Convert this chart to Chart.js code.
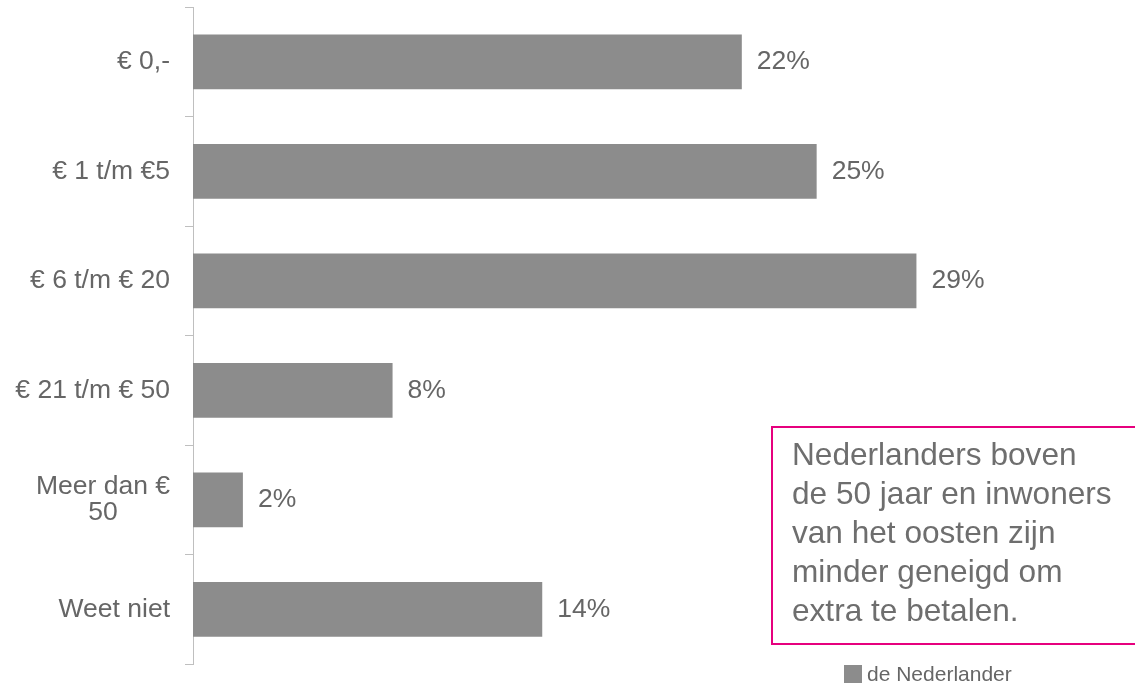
<!DOCTYPE html>
<html>
<head>
<meta charset="utf-8">
<script src="https://cdn.jsdelivr.net/npm/chart.js@4/dist/chart.umd.min.js"></script>
<style>
  html, body { margin: 0; padding: 0; background: #fff; }
  body { width: 1135px; height: 688px; position: relative; overflow: hidden; font-family: "Liberation Sans", Arial, sans-serif; }
  #wrap { position: absolute; left: 0; top: 0; width: 1135px; height: 688px; }
  #note {
    position: absolute; left: 771px; top: 426px; width: 400px; height: 219px;
    border: 2px solid #e6007e; box-sizing: border-box;
    color: #6e6e6e; font-size: 31.6px; line-height: 39px;
    padding: 7px 0 0 19px;
  }
  #legend { position: absolute; left: 844px; top: 665px; height: 18px; display: flex; align-items: center; color: #666; font-size: 21px; }
  #legend span.box { width: 18px; height: 18px; background: #8c8c8c; margin-right: 5px; }
</style>
</head>
<body>
<div id="wrap"><canvas id="chart"></canvas></div>
<div id="note">Nederlanders boven<br>de 50 jaar en inwoners<br>van het oosten zijn<br>minder geneigd om<br>extra te betalen.</div>
<div id="legend"><span class="box"></span>de Nederlander</div>
<script>
const categories = ['€ 0,-', '€ 1 t/m €5', '€ 6 t/m € 20', '€ 21 t/m € 50', ['Meer dan €', '50'], 'Weet niet'];
const values = [22, 25, 29, 8, 2, 14];
const seriesName = 'de Nederlander';

const textColor = '#666666';
const fontFamily = '"Liberation Sans", Arial, sans-serif';

// category labels drawn by hand so the two-line label is centred per line
const categoryLabels = {
  id: 'categoryLabels',
  afterDraw(chart) {
    const ctx = chart.ctx;
    const scale = chart.scales.y;
    const rightX = scale.right - 23;
    ctx.save();
    ctx.font = '26.5px ' + fontFamily;
    ctx.fillStyle = textColor;
    ctx.textBaseline = 'middle';
    categories.forEach((label, i) => {
      const y = scale.getPixelForValue(i);
      if (Array.isArray(label)) {
        const w = Math.max(...label.map(l => ctx.measureText(l).width));
        ctx.textAlign = 'center';
        const lh = 26;
        label.forEach((l, j) => {
          ctx.fillText(l, rightX - w / 2, y + (j - (label.length - 1) / 2) * lh);
        });
      } else {
        ctx.textAlign = 'right';
        ctx.fillText(label, rightX, y);
      }
    });
    ctx.restore();
  }
};

// value labels right of each bar
const valueLabels = {
  id: 'valueLabels',
  afterDatasetsDraw(chart) {
    const ctx = chart.ctx;
    const meta = chart.getDatasetMeta(0);
    ctx.save();
    ctx.font = '26.5px ' + fontFamily;
    ctx.fillStyle = textColor;
    ctx.textAlign = 'left';
    ctx.textBaseline = 'middle';
    meta.data.forEach((bar, i) => {
      ctx.fillText(values[i] + '%', bar.x + 15, bar.y);
    });
    ctx.restore();
  }
};

new Chart(document.getElementById('chart'), {
  type: 'bar',
  data: {
    labels: categories,
    datasets: [{
      label: seriesName,
      data: values,
      backgroundColor: '#8c8c8c',
      barPercentage: 1,
      categoryPercentage: 0.5,
    }],
  },
  options: {
    indexAxis: 'y',
    responsive: true,
    maintainAspectRatio: false,
    animation: false,
    layout: { padding: { top: 7, bottom: 24, right: 19, left: 0 } },
    plugins: {
      legend: { display: false },
      tooltip: { enabled: false },
    },
    scales: {
      x: { display: false, min: 0, max: 37 },
      y: {
        afterFit(scale) { scale.width = 193; },
        grid: { drawOnChartArea: false, drawTicks: true, tickLength: 8, color: '#bfbfbf', offset: true },
        border: { display: true, color: '#bfbfbf', width: 1 },
        ticks: { display: false },
      },
    },
  },
  plugins: [categoryLabels, valueLabels],
});
</script>
</body>
</html>
